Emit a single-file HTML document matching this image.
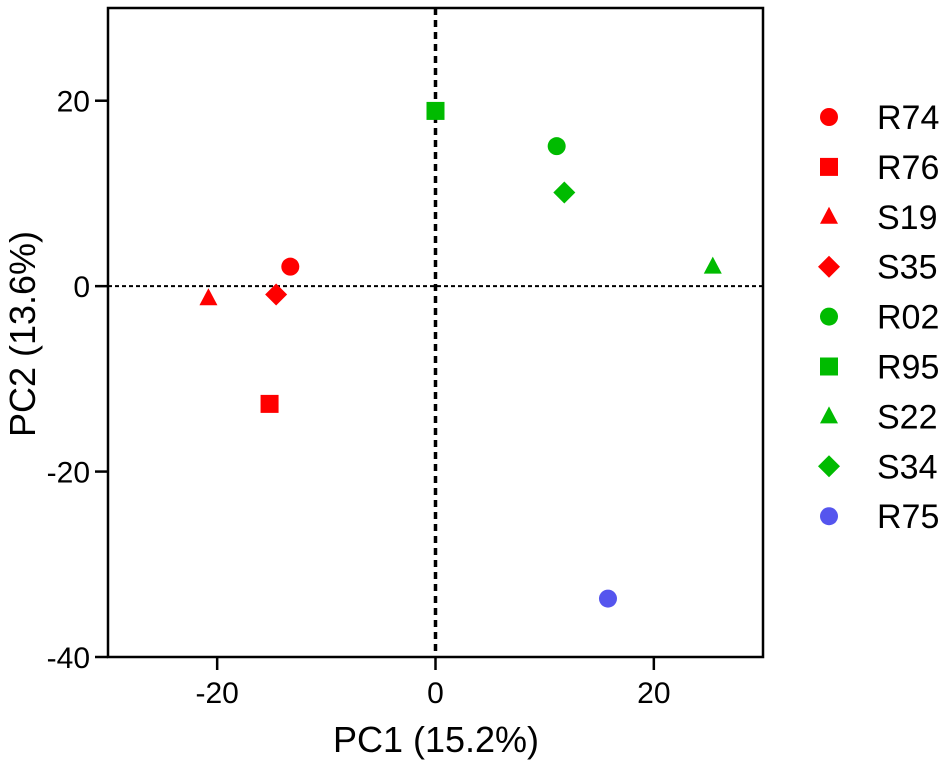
<!DOCTYPE html>
<html><head><meta charset="utf-8"><style>
body{margin:0;background:#fff}
svg{display:block;font-family:"Liberation Sans",Arial,sans-serif}
</style></head><body>
<svg id="chart" width="945" height="765"></svg>
<script>
const names=["R74","R76","S19","S35","R02","R95","S22","S34","R75"];
const pc1=[-13.3,-15.2,-20.8,-14.6,11.1,0,25.4,11.8,15.8];
const pc2=[2.1,-12.7,-1.3,-0.9,15.1,18.9,2.1,10.1,-33.7];
const shapes=["circle","square","triangle","diamond","circle","square","triangle","diamond","circle"];
const colors=["#ff0000","#ff0000","#ff0000","#ff0000","#00bb00","#00bb00","#00bb00","#00bb00","#5555ee"];
const xTicks=[-20,0,20];
const yTicks=[20,0,-20,-40];

const NS="http://www.w3.org/2000/svg";
const svg=document.getElementById('chart');
const L=108,R=763,T=8,B=657,xmin=-30,xmax=30,ymin=-40,ymax=30;
const sx=v=>L+(v-xmin)/(xmax-xmin)*(R-L);
const sy=v=>B-(v-ymin)/(ymax-ymin)*(B-T);
function mk(tag,attrs,parent){const e=document.createElementNS(NS,tag);for(const k in attrs)e.setAttribute(k,attrs[k]);(parent||svg).appendChild(e);return e;}
function marker(shape,cx,cy,color){
  let e;
  if(shape==="circle")e=mk("circle",{cx:cx,cy:cy,r:9,fill:color});
  else if(shape==="square")e=mk("rect",{x:cx-9,y:cy-9,width:18,height:18,fill:color});
  else if(shape==="triangle")e=mk("polygon",{points:`${cx},${cy-10} ${cx+9},${cy+7} ${cx-9},${cy+7}`,fill:color});
  else e=mk("polygon",{points:`${cx},${cy-11} ${cx+11},${cy} ${cx},${cy+11} ${cx-11},${cy}`,fill:color});
  return e;
}
let zl=mk("line",{x1:L,x2:R,y1:sy(0),y2:sy(0),stroke:"#000","stroke-width":2,"stroke-dasharray":"4,3"});


let zv=mk("line",{x1:sx(0),x2:sx(0),y1:T,y2:B,stroke:"#000","stroke-width":3.5,"stroke-dasharray":"7,5"});


let fr=mk("rect",{x:L,y:T,width:R-L,height:B-T,fill:"none",stroke:"#000","stroke-width":2.5});


xTicks.forEach(v=>{
  let t=mk("line",{x1:sx(v),x2:sx(v),y1:B,y2:B+13,stroke:"#000","stroke-width":2.5});
  
  
  let lb=mk("text",{x:sx(v),y:703,"text-anchor":"middle","font-size":30,fill:"#000"});
  lb.textContent=v;
  
  
});
yTicks.forEach(v=>{
  let t=mk("line",{x1:L-13,x2:L,y1:sy(v),y2:sy(v),stroke:"#000","stroke-width":2.5});
  
  
  let lb=mk("text",{x:90,y:sy(v)+11,"text-anchor":"end","font-size":30,fill:"#000"});
  lb.textContent=v;
  
  
});
let xt=mk("text",{x:436,y:752,"text-anchor":"middle","font-size":36,fill:"#000"});
xt.textContent="PC1 (15.2%)";


let yt=mk("text",{x:0,y:0,"text-anchor":"middle","font-size":36,fill:"#000",transform:"translate(35,334) rotate(-90)"});
yt.textContent="PC2 (13.6%)";


names.forEach((n,i)=>{
  let p=marker(shapes[i],sx(pc1[i]),sy(pc2[i]),colors[i]);
  
  
});
names.forEach((n,i)=>{
  const y=117+i*49.9;
  let m=marker(shapes[i],829,y,colors[i]);
  
  
  let tx=mk("text",{x:877,y:y+12,"font-size":34,fill:"#000"});
  tx.textContent=n;
  
  
});
</script>
</body></html>
